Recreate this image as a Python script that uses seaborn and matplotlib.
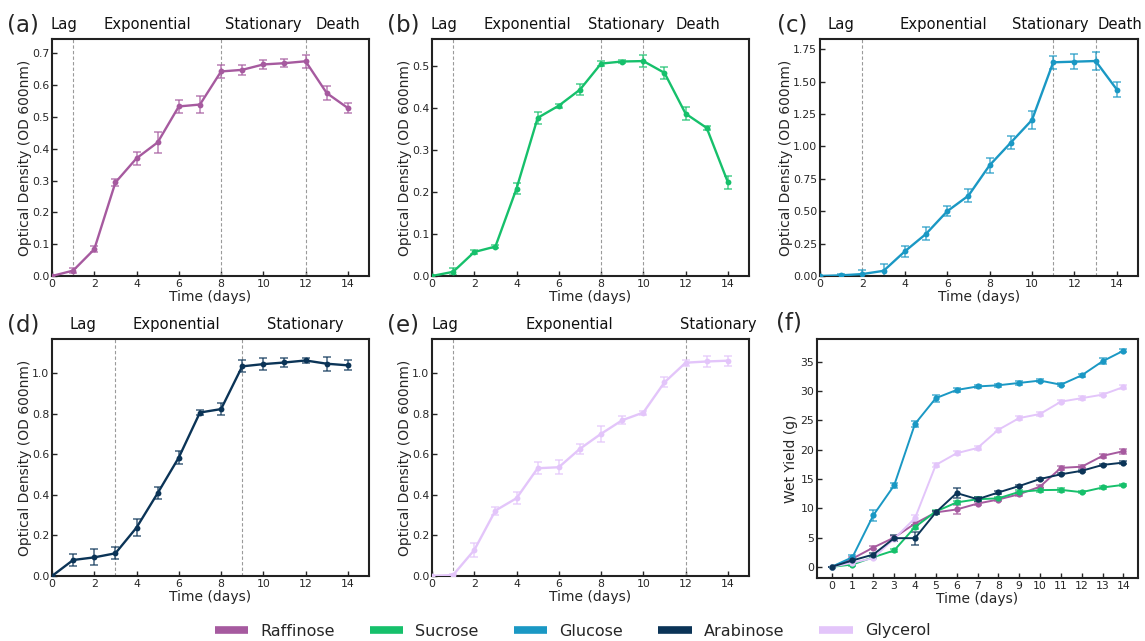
import numpy as np
import pandas as pd
import seaborn as sns
import matplotlib
matplotlib.use("Agg")
import matplotlib.pyplot as plt
from matplotlib.lines import Line2D
from matplotlib.transforms import blended_transform_factory

# ---- data -------------------------------------------------------------
days = list(range(15))

raffinose_od = [0.0, 0.017, 0.084, 0.294, 0.370, 0.420, 0.533, 0.539, 0.643,
                0.648, 0.665, 0.669, 0.675, 0.575, 0.528]
raffinose_od_err = [0.0, 0.008, 0.010, 0.010, 0.020, 0.033, 0.020, 0.028, 0.020,
                    0.015, 0.015, 0.012, 0.020, 0.022, 0.015]

sucrose_od = [0.0, 0.010, 0.057, 0.070, 0.208, 0.376, 0.405, 0.443, 0.505,
              0.510, 0.511, 0.483, 0.386, 0.352, 0.223]
sucrose_od_err = [0.0, 0.008, 0.004, 0.004, 0.012, 0.014, 0.005, 0.013, 0.006,
                  0.004, 0.014, 0.015, 0.015, 0.005, 0.015]

glucose_od = [0.0, 0.005, 0.015, 0.040, 0.190, 0.325, 0.500, 0.620, 0.855,
              1.030, 1.205, 1.650, 1.655, 1.660, 1.440]
glucose_od_err = [0.0, 0.010, 0.030, 0.050, 0.040, 0.050, 0.040, 0.050, 0.060,
                  0.050, 0.070, 0.050, 0.060, 0.070, 0.060]

arabinose_od = [0.0, 0.079, 0.092, 0.112, 0.239, 0.409, 0.585, 0.807, 0.824,
                1.035, 1.046, 1.054, 1.064, 1.048, 1.040]
arabinose_od_err = [0.0, 0.030, 0.040, 0.030, 0.040, 0.030, 0.030, 0.012, 0.030,
                    0.030, 0.030, 0.020, 0.012, 0.035, 0.025]

glycerol_od = [0.0, 0.005, 0.128, 0.323, 0.384, 0.532, 0.537, 0.628, 0.702,
               0.769, 0.807, 0.956, 1.053, 1.059, 1.063]
glycerol_od_err = [0.0, 0.005, 0.035, 0.020, 0.030, 0.030, 0.035, 0.025, 0.040,
                   0.020, 0.010, 0.025, 0.015, 0.025, 0.025]

# wet yield (g)
raffinose_yield = [0.0, 1.4, 3.3, 5.0, 7.4, 9.3, 9.8, 10.8, 11.5, 12.4, 13.7,
                   16.9, 17.1, 18.95, 19.75]
raffinose_yield_err = [0.0, 0.2, 0.3, 0.3, 0.3, 0.3, 0.7, 0.3, 0.3, 0.3, 0.3,
                       0.3, 0.3, 0.3, 0.4]
sucrose_yield = [0.0, 0.4, 1.65, 2.8, 6.8, 9.45, 11.0, 11.55, 11.7, 12.8, 13.1,
                 13.15, 12.75, 13.55, 14.0]
sucrose_yield_err = [0.0, 0.2, 0.2, 0.2, 0.3, 0.3, 0.3, 0.3, 0.3, 0.3, 0.3,
                     0.3, 0.2, 0.2, 0.2]
glucose_yield = [0.0, 1.65, 8.8, 13.9, 24.4, 28.8, 30.2, 30.8, 31.0, 31.4, 31.8,
                 31.1, 32.7, 35.1, 36.9]
glucose_yield_err = [0.0, 0.3, 0.9, 0.5, 0.5, 0.6, 0.3, 0.3, 0.3, 0.3, 0.3,
                     0.3, 0.3, 0.5, 0.3]
arabinose_yield = [0.0, 1.1, 2.1, 4.9, 4.9, 9.3, 12.6, 11.55, 12.7, 13.8, 15.0,
                   15.8, 16.4, 17.4, 17.8]
arabinose_yield_err = [0.0, 0.2, 0.2, 0.5, 1.1, 0.3, 0.8, 0.3, 0.2, 0.2, 0.2,
                       0.2, 0.2, 0.2, 0.3]
glycerol_yield = [0.0, 0.7, 1.5, 4.8, 8.3, 17.4, 19.4, 20.3, 23.4, 25.4, 26.1,
                  28.2, 28.8, 29.4, 30.7]
glycerol_yield_err = [0.0, 0.2, 0.2, 0.3, 0.6, 0.4, 0.3, 0.3, 0.3, 0.3, 0.4,
                      0.3, 0.3, 0.3, 0.4]

substrates = ["Raffinose", "Sucrose", "Glucose", "Arabinose", "Glycerol"]
colors = {
    "Raffinose": "#A65A9F",
    "Sucrose": "#16C06B",
    "Glucose": "#1A98C4",
    "Arabinose": "#0B3457",
    "Glycerol": "#E3C5FA",
}

# growth-phase boundaries (days) and label positions (days)
phase_names = {
    "a": ["Lag", "Exponential", "Stationary", "Death"],
    "b": ["Lag", "Exponential", "Stationary", "Death"],
    "c": ["Lag", "Exponential", "Stationary", "Death"],
    "d": ["Lag", "Exponential", "Stationary"],
    "e": ["Lag", "Exponential", "Stationary"],
}
phase_bounds = {"a": [1, 8, 12], "b": [1, 8, 10], "c": [2, 11, 13],
                "d": [3, 9], "e": [1, 12]}
phase_label_x = {"a": [0.58, 4.52, 10.0, 13.53],
                 "b": [0.57, 4.52, 9.19, 12.58],
                 "c": [0.99, 5.83, 10.88, 14.13],
                 "d": [1.47, 5.9, 11.98],
                 "e": [0.6, 6.5, 13.54]}

od_series = {
    "a": ("Raffinose", raffinose_od, raffinose_od_err, 0.745, np.arange(0, 0.71, 0.1), "{:.1f}"),
    "b": ("Sucrose", sucrose_od, sucrose_od_err, 0.5635, np.arange(0, 0.51, 0.1), "{:.1f}"),
    "c": ("Glucose", glucose_od, glucose_od_err, 1.83, np.arange(0, 1.76, 0.25), "{:.2f}"),
    "d": ("Arabinose", arabinose_od, arabinose_od_err, 1.17, np.arange(0, 1.01, 0.2), "{:.1f}"),
    "e": ("Glycerol", glycerol_od, glycerol_od_err, 1.17, np.arange(0, 1.01, 0.2), "{:.1f}"),
}
yield_series = {
    "Raffinose": (raffinose_yield, raffinose_yield_err),
    "Sucrose": (sucrose_yield, sucrose_yield_err),
    "Glucose": (glucose_yield, glucose_yield_err),
    "Glycerol": (glycerol_yield, glycerol_yield_err),
    "Arabinose": (arabinose_yield, arabinose_yield_err),
}

# ---- style ------------------------------------------------------------
sns.set_style("ticks")
plt.rcParams.update({
    "font.family": ["DejaVu Sans"],
    "axes.edgecolor": "#222222",
    "axes.linewidth": 1.5,
    "xtick.direction": "in",
    "ytick.direction": "in",
    "xtick.major.size": 3.5,
    "ytick.major.size": 3.5,
    "xtick.major.width": 1.0,
    "ytick.major.width": 1.0,
    "xtick.labelsize": 7.8,
    "ytick.labelsize": 7.8,
    "xtick.major.pad": 2,
    "ytick.major.pad": 2,
})

W, H = 1145, 641
fig = plt.figure(figsize=(W / 100, H / 100), dpi=100)


def px_axes(left, top, right, bottom):
    return fig.add_axes([left / W, 1 - bottom / H, (right - left) / W, (bottom - top) / H])


boxes = {
    "a": (52, 39, 369, 276),
    "b": (432, 39, 749, 276),
    "c": (820, 39, 1138, 276),
    "d": (52, 339, 369, 576),
    "e": (432, 339, 749, 576),
    "f": (817, 339, 1138, 578),
}
letter_pos = {"a": (7, 25), "b": (387, 25), "c": (777, 25),
              "d": (7, 325), "e": (387, 325), "f": (776, 323)}


def draw_series(ax, name, y, err, lw=1.7, ms=4.2):
    color = colors[name]
    df = pd.DataFrame({"day": days, "value": y})
    sns.lineplot(data=df, x="day", y="value", ax=ax, color=color, lw=lw,
                 marker="o", markersize=ms, markeredgewidth=0, zorder=3,
                 errorbar=None)
    ax.errorbar(days, y, yerr=err, fmt="none", ecolor=color, alpha=0.7,
                elinewidth=1.2, capsize=3, capthick=1.2, zorder=2)


for key, (name, y, err, ytop, yt, fmt) in od_series.items():
    ax = px_axes(*boxes[key])
    for b in phase_bounds[key]:
        ax.axvline(b, color="#9a9a9a", lw=0.8, ls=(0, (3, 2)), zorder=1)
    draw_series(ax, name, y, err)
    ax.set_xlim(0, 15)
    ax.set_ylim(0, ytop)
    ax.set_xticks(range(0, 15, 2))
    ax.set_yticks(yt)
    ax.set_yticklabels([fmt.format(v) for v in yt])
    ax.set_xlabel("Time (days)", fontsize=10, labelpad=1)
    ax.set_ylabel("Optical Density (OD 600nm)", fontsize=10, labelpad=0)
    trans = blended_transform_factory(ax.transData, ax.transAxes)
    for lx, lab in zip(phase_label_x[key], phase_names[key]):
        ax.text(lx, 1.06, lab, transform=trans, ha="center", va="center",
                fontsize=10.6, color="#111111")

# ---- wet yield panel ----------------------------------------------------
axf = px_axes(*boxes["f"])
for name, (y, err) in yield_series.items():
    draw_series(axf, name, y, err, lw=1.4, ms=4.5)
axf.set_xlim(-0.7, 14.7)
axf.set_ylim(-1.9, 38.9)
axf.set_xticks(range(0, 15))
axf.set_yticks(range(0, 36, 5))
axf.set_xlabel("Time (days)", fontsize=10, labelpad=1)
axf.set_ylabel("Wet Yield (g)", fontsize=10, labelpad=2)

for key, (lx, ly) in letter_pos.items():
    fig.text(lx / W, 1 - ly / H, f"({key})", fontsize=16.5, ha="left", va="center")

handles = [Line2D([0], [0], color=colors[n], lw=5.5, solid_capstyle="butt") for n in substrates]
fig.legend(handles, substrates, loc="center", bbox_to_anchor=(0.5, 1 - 631 / H),
           ncol=5, frameon=False, fontsize=11.5, handlelength=2.1,
           handletextpad=0.75, columnspacing=2.2)

fig.savefig("out.png", dpi=100)
